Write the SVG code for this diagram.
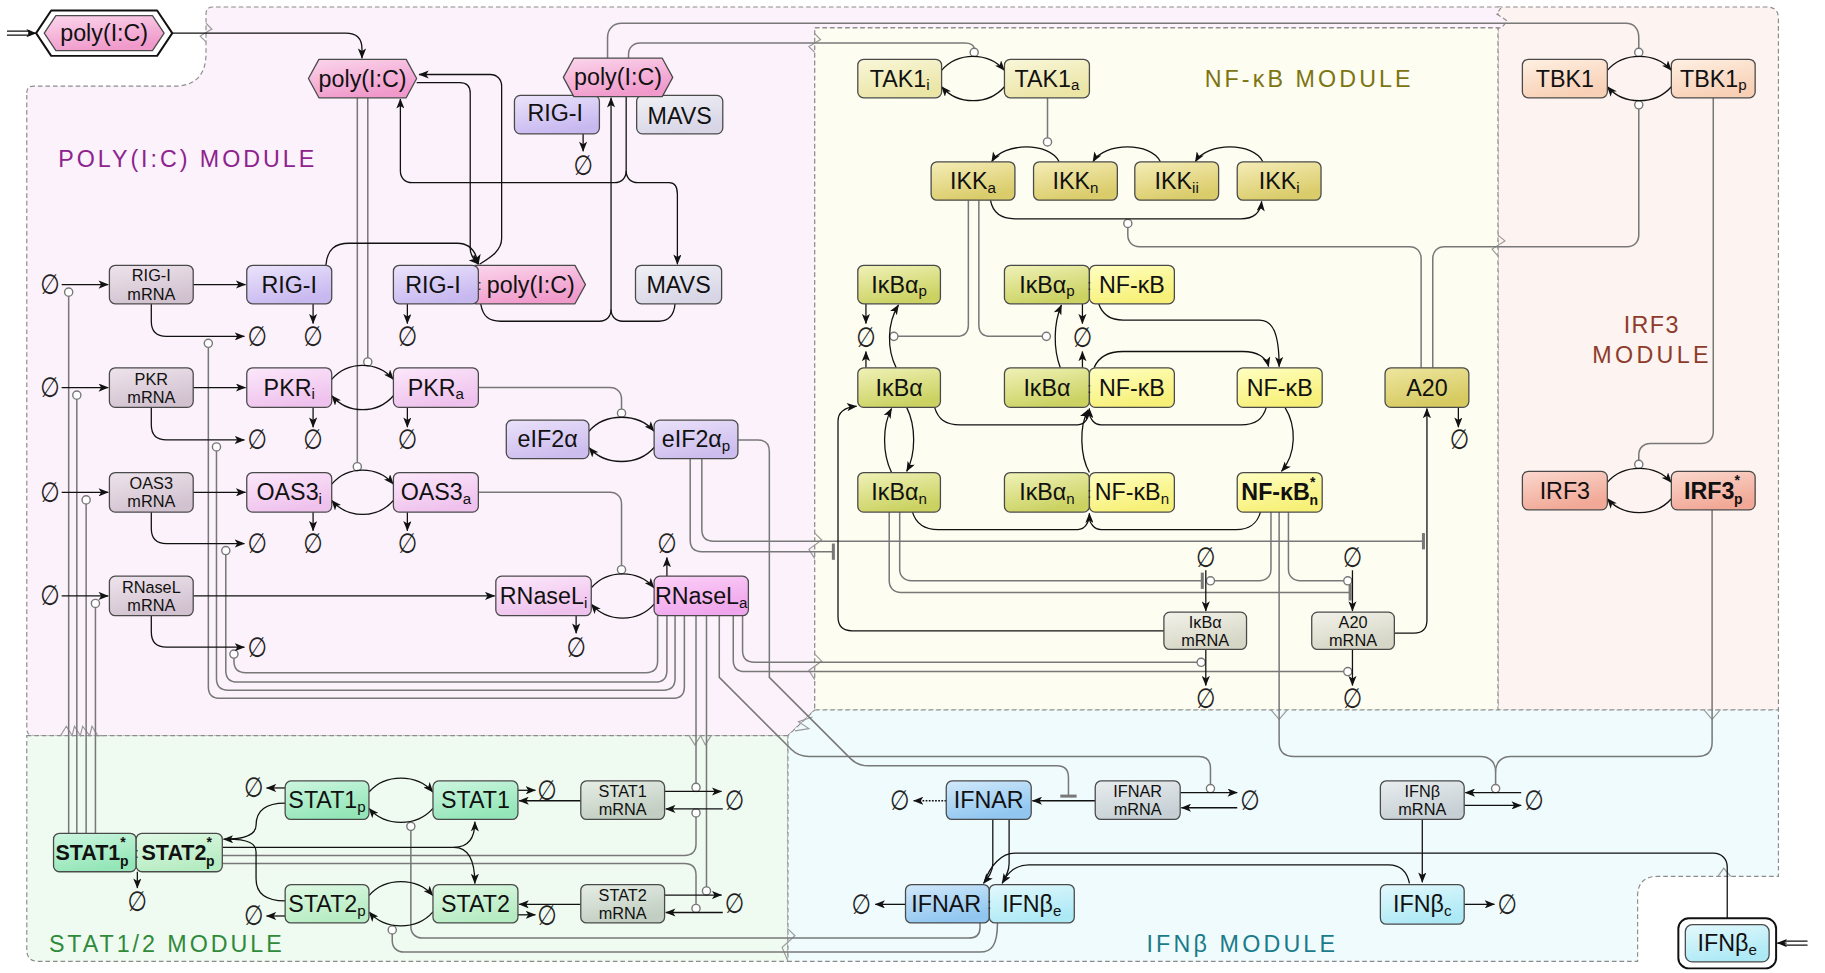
<svg xmlns="http://www.w3.org/2000/svg" width="1825" height="973" viewBox="0 0 1825 973">
<defs>
<style>
.t{font-family:"Liberation Sans",Arial,sans-serif;font-size:20px;fill:#111;text-anchor:middle;dominant-baseline:central}
.ts{font-family:"Liberation Sans",Arial,sans-serif;font-size:14px;fill:#111;text-anchor:middle;dominant-baseline:central}
.b{font-weight:bold}
.sb{font-size:13px}
.ss{font-size:12px}
.col{font-family:"Liberation Sans",Arial,sans-serif;font-size:13px;fill:#333;text-anchor:middle;dominant-baseline:central}
.e{font-family:"DejaVu Sans",sans-serif;font-size:24px;fill:#222;text-anchor:middle;dominant-baseline:central}
.lab{font-family:"Liberation Sans",Arial,sans-serif;font-size:20px;dominant-baseline:central}
.nd{stroke:#4a4a4a;stroke-width:1.1}
.r{fill:none;stroke:#111;stroke-width:1.1;marker-end:url(#ar)}
.rn{fill:none;stroke:#111;stroke-width:1.1}
.m{fill:none;stroke:#787878;stroke-width:1.3}
.c{fill:#fff;stroke:#787878;stroke-width:1.2}
.bar{stroke:#787878;stroke-width:2.6}
.mod{stroke:#8c8c8c;stroke-width:1;stroke-dasharray:4 2.5}
.zz{fill:none;stroke:#999;stroke-width:1}
</style>
<marker id="ar" viewBox="0 0 10 8" refX="9.5" refY="4" markerWidth="9" markerHeight="7" orient="auto" markerUnits="userSpaceOnUse"><path d="M0,0 L10,4 L0,8 L2.5,4 z" fill="#111"/></marker>
<linearGradient id="gPoly" x1="0" y1="0" x2="0.4" y2="1"><stop offset="0" stop-color="#fbd6ec"/><stop offset="1" stop-color="#f09acb"/></linearGradient>
<linearGradient id="gRig" x1="0" y1="0" x2="0.4" y2="1"><stop offset="0" stop-color="#ebe4fb"/><stop offset="1" stop-color="#c8b8f0"/></linearGradient>
<linearGradient id="gMavs" x1="0" y1="0" x2="0.4" y2="1"><stop offset="0" stop-color="#f1f1f6"/><stop offset="1" stop-color="#d8d6e6"/></linearGradient>
<linearGradient id="gMrP" x1="0" y1="0" x2="0.4" y2="1"><stop offset="0" stop-color="#eee4ec"/><stop offset="1" stop-color="#d2c2d0"/></linearGradient>
<linearGradient id="gPkr" x1="0" y1="0" x2="0.4" y2="1"><stop offset="0" stop-color="#fce8fb"/><stop offset="1" stop-color="#efc2ed"/></linearGradient>
<linearGradient id="gRnA" x1="0" y1="0" x2="0.4" y2="1"><stop offset="0" stop-color="#fbd0f7"/><stop offset="1" stop-color="#f0a6ec"/></linearGradient>
<linearGradient id="gEif" x1="0" y1="0" x2="0.4" y2="1"><stop offset="0" stop-color="#eae2fa"/><stop offset="1" stop-color="#cdbdee"/></linearGradient>
<linearGradient id="gTak" x1="0" y1="0" x2="0.4" y2="1"><stop offset="0" stop-color="#f9f7da"/><stop offset="1" stop-color="#ebe5a6"/></linearGradient>
<linearGradient id="gIkk" x1="0" y1="0" x2="0.4" y2="1"><stop offset="0" stop-color="#f5edb8"/><stop offset="1" stop-color="#dacc6a"/></linearGradient>
<linearGradient id="gIkb" x1="0" y1="0" x2="0.4" y2="1"><stop offset="0" stop-color="#f0f2b8"/><stop offset="1" stop-color="#cbd262"/></linearGradient>
<linearGradient id="gNf" x1="0" y1="0" x2="0.4" y2="1"><stop offset="0" stop-color="#ffffc2"/><stop offset="1" stop-color="#f7f078"/></linearGradient>
<linearGradient id="gA20" x1="0" y1="0" x2="0.4" y2="1"><stop offset="0" stop-color="#eee6a0"/><stop offset="1" stop-color="#d6ca60"/></linearGradient>
<linearGradient id="gMrN" x1="0" y1="0" x2="0.4" y2="1"><stop offset="0" stop-color="#f2f2ea"/><stop offset="1" stop-color="#d6d6c6"/></linearGradient>
<linearGradient id="gTbk" x1="0" y1="0" x2="0.4" y2="1"><stop offset="0" stop-color="#fef0e2"/><stop offset="1" stop-color="#f8d0b6"/></linearGradient>
<linearGradient id="gIrf" x1="0" y1="0" x2="0.4" y2="1"><stop offset="0" stop-color="#fbd8ce"/><stop offset="1" stop-color="#f1a896"/></linearGradient>
<linearGradient id="gS1" x1="0" y1="0" x2="0.4" y2="1"><stop offset="0" stop-color="#cdf6e0"/><stop offset="1" stop-color="#94e6b8"/></linearGradient>
<linearGradient id="gS2" x1="0" y1="0" x2="0.4" y2="1"><stop offset="0" stop-color="#e0f9e4"/><stop offset="1" stop-color="#b6ecc2"/></linearGradient>
<linearGradient id="gMrS" x1="0" y1="0" x2="0.4" y2="1"><stop offset="0" stop-color="#e6eee6"/><stop offset="1" stop-color="#c2cec2"/></linearGradient>
<linearGradient id="gIfr" x1="0" y1="0" x2="0.4" y2="1"><stop offset="0" stop-color="#d2e9fb"/><stop offset="1" stop-color="#90c6f0"/></linearGradient>
<linearGradient id="gIfb" x1="0" y1="0" x2="0.4" y2="1"><stop offset="0" stop-color="#e4f9fd"/><stop offset="1" stop-color="#ade9f5"/></linearGradient>
<linearGradient id="gMrI" x1="0" y1="0" x2="0.4" y2="1"><stop offset="0" stop-color="#e9edef"/><stop offset="1" stop-color="#c6d0d4"/></linearGradient>
</defs>
<rect x="0" y="0" width="1825" height="973" fill="#fff"/>
<g transform="scale(1.16390)">
<g id="modules">
<path class="mod" fill="#fdf3f0" d="M1287,6 L1518,6 Q1528,6 1528,16 L1528,610 L1287,610 Z"/>
<path class="mod" fill="#fbf2fb" d="M23,80 Q23,74 29,74 L150,74 C168,74 177,64 177,46 L177,12 Q177,6 183,6 L1290,6 L1286,12 L1295,18 L1290,24 L700,24 L700,610 L677,632 L29,632 Q23,632 23,626 Z"/>
<path class="mod" fill="#fdfdf1" d="M700,24 L1287,24 L1287,610 L700,610 Z"/>
<path class="mod" fill="#effaf1" d="M23,632 L677,632 L677,826 L33,826 Q23,826 23,816 Z"/>
<path class="mod" fill="#effbfd" d="M700,610 L1528,610 L1528,753 L1424,753 Q1407,753 1407,770 L1407,826 L677,826 L677,632 Z"/>
</g>
<g id="breaks">
<path class="zz" d="M177,20 L182,25 L172,31 L177,36"/>
<path class="zz" d="M700,29 L705,34 L695,40 L700,45"/>
<path class="zz" d="M700,458 L706,464 L695,472 L700,480"/>
<path class="zz" d="M700,562 L706,568 L695,576 L700,584"/>
<path class="zz" d="M1287,202 L1293,207 L1282,214 L1287,220"/>
<path class="zz" d="M677,798 L683,804 L672,814 L677,826"/>
<path class="zz" d="M52,632 L57,624 L62,632 L64,624 L69,632 L71,624 L77,632 L79,624 L84,632 L89,632"/>
<path class="zz" d="M592,632 L597,640 L602,632 L606,640 L611,632"/>
<path class="zz" d="M1092,610 L1099,618 L1106,610"/>
<path class="zz" d="M1464,610 L1471,618 L1478,610"/>
<path class="zz" d="M1476,753 L1481,746 L1487,753"/>
<path class="zz" d="M683,628 L695,626 L686,620 L698,616"/>
</g>
<g id="labels">
<text class="lab" x="50" y="137" fill="#8e238e" textLength="220" lengthAdjust="spacing">POLY(I:C) MODULE</text>
<text class="lab" x="1035" y="68" fill="#7d7412" textLength="177" lengthAdjust="spacing">NF-κB MODULE</text>
<text class="lab" x="1395" y="279" fill="#8e3b2c" textLength="47" lengthAdjust="spacing">IRF3</text>
<text class="lab" x="1368" y="305" fill="#8e3b2c" textLength="100" lengthAdjust="spacing">MODULE</text>
<text class="lab" x="42" y="811" fill="#2f8a3a" textLength="200" lengthAdjust="spacing">STAT1/2 MODULE</text>
<text class="lab" x="985" y="811" fill="#1b7b8a" textLength="162" lengthAdjust="spacing">IFNβ MODULE</text>
</g>
<g id="connectors">
<path class="m" d="M59,716 L59,254.5"/><circle class="c" cx="59" cy="251" r="3.5"/>
<path class="m" d="M66,716 L66,343"/><circle class="c" cx="66" cy="339.5" r="3.5"/>
<path class="m" d="M74,716 L74,433"/><circle class="c" cx="74" cy="429.5" r="3.5"/>
<path class="m" d="M82,716 L82,522"/><circle class="c" cx="82" cy="518.5" r="3.5"/>
<path class="m" d="M565,529 L565,568 Q565,578 555,578 L211,578 Q201,578 201,568 L201,565.5"/><circle class="c" cx="201" cy="562" r="3.5"/>
<path class="m" d="M573,529 L573,576 Q573,586 563,586 L204,586 Q194,586 194,576 L194,476.5"/><circle class="c" cx="194" cy="473" r="3.5"/>
<path class="m" d="M580,529 L580,583 Q580,593 570,593 L196,593 Q186,593 186,583 L186,387.5"/><circle class="c" cx="186" cy="384" r="3.5"/>
<path class="m" d="M588,529 L588,590 Q588,600 578,600 L189,600 Q179,600 179,590 L179,298.5"/><circle class="c" cx="179" cy="295" r="3.5"/>
<path class="m" d="M316,84 L316,307.5"/><circle class="c" cx="316" cy="311" r="3.5"/>
<path class="m" d="M307,84 L307,397.5"/><circle class="c" cx="307" cy="401" r="3.5"/>
<path class="m" d="M411,333 L524,333 C530,333 534,337 534,343 L534,351.5"/><circle class="c" cx="534" cy="355" r="3.5"/>
<path class="m" d="M411,423 L524,423 C530,423 534,427 534,433 L534,486"/><circle class="c" cx="534" cy="489.5" r="3.5"/>
<path class="m" d="M598,529 L598,673"/><circle class="c" cx="598" cy="676.5" r="3.5"/>
<path class="m" d="M607,529 L607,762"/><circle class="c" cx="607" cy="765.5" r="3.5"/>
<path class="m" d="M191,735 L588,735 Q598,735 598,725 L598,702"/><circle class="c" cx="598" cy="698.5" r="3.5"/>
<path class="m" d="M191,742 L588,742 Q598,742 598,752 L598,777"/><circle class="c" cx="598" cy="780.5" r="3.5"/>
<path class="m" d="M842,793 L842,797 C842,803 838,806 832,806 L363,806 C357,806 353,802 353,796 L353,713.5"/><circle class="c" cx="353" cy="710" r="3.5"/>
<path class="m" d="M857,793 C857,812 852,818 842,818 L347,818 C341,818 337,814 337,808 L337,802.5"/><circle class="c" cx="337" cy="799" r="3.5"/>
<path class="m" d="M634,378 L651,378 Q661,378 661,388 L661,582 L731,652 Q737,658 746,658 L908,658 Q918,658 918,668 L918,684"/><path class="bar" d="M911,684 L925,684"/>
<path class="m" d="M618,529 L618,582 L680,644 Q686,650 695,650 L1030,650 Q1040,650 1040,660 L1040,674"/><circle class="c" cx="1040" cy="677.5" r="3.5"/>
<path class="m" d="M593,394 L593,464 Q593,474 603,474 L716,474"/><path class="bar" d="M716,467 L716,481"/>
<path class="m" d="M603,394 L603,455 Q603,465 613,465 L1223,465"/><path class="bar" d="M1223,458 L1223,472"/>
<path class="m" d="M638,529 L638,559 Q638,569 648,569 L1028.5,569"/><circle class="c" cx="1032" cy="569" r="3.5"/>
<path class="m" d="M630,529 L630,567 Q630,577 640,577 L1154.5,577"/><circle class="c" cx="1158" cy="577" r="3.5"/>
<path class="m" d="M832,172 L832,279 Q832,289 822,289 L771.5,289"/><circle class="c" cx="768" cy="289" r="3.5"/>
<path class="m" d="M841,172 L841,279 Q841,289 851,289 L895.5,289"/><circle class="c" cx="899" cy="289" r="3.5"/>
<path class="m" d="M900,84 L900,118.5"/><circle class="c" cx="900" cy="122" r="3.5"/>
<path class="m" d="M540,50 L540,47 C540,41 544,37 550,37 L829,37 C834,37 837,39 837,41.5"/><circle class="c" cx="837" cy="45" r="3.5"/>
<path class="m" d="M522,50 L522,32 C522,25 527,20 534,20 L1397,20 C1404,20 1408,25 1408,32 L1408,41.5"/><circle class="c" cx="1408" cy="45" r="3.5"/>
<path class="m" d="M1231,316 L1231,222 C1231,216 1235,212 1241,212 L1398,212 C1404,212 1408,208 1408,202 L1408,93.5"/><circle class="c" cx="1408" cy="90" r="3.5"/>
<path class="m" d="M1221,316 L1221,222 C1221,216 1217,212 1211,212 L979,212 C973,212 969,208 969,202 L969,195.5"/><circle class="c" cx="969" cy="192" r="3.5"/>
<path class="m" d="M1472,84 L1472,371 C1472,377 1468,381 1462,381 L1418,381 C1412,381 1408,385 1408,391 L1408,395.5"/><circle class="c" cx="1408" cy="399" r="3.5"/>
<path class="m" d="M1471,438 L1471,638 C1471,646 1466,650 1458,650 L1298,650 C1290,650 1285,655 1285,663 L1285,674"/>
<path class="m" d="M1099,440 L1099,638 C1099,646 1104,650 1112,650 L1272,650 C1280,650 1285,655 1285,663"/><circle class="c" cx="1285" cy="677.5" r="3.5"/>
<path class="m" d="M1092,440 L1092,489 C1092,495 1088,499 1082,499 L1043.5,499"/><circle class="c" cx="1040" cy="499" r="3.5"/>
<path class="m" d="M1107,440 L1107,489 C1107,495 1111,499 1117,499 L1154.5,499"/><circle class="c" cx="1158" cy="499" r="3.5"/>
<path class="m" d="M773,440 L773,489 C773,495 777,499 783,499 L1033,499"/><path class="bar" d="M1033,492 L1033,506"/>
<path class="m" d="M764,440 L764,499 C764,505 768,509 774,509 L1160,509"/><path class="bar" d="M1160,502 L1160,516"/>
<path class="rn" d="M6,26.8 L26,26.8 M6,30.2 L26,30.2"/><path class="r" d="M24,28.5 L31,28.5"/>
<path class="rn" d="M1553,808.6 L1533,808.6 M1553,812 L1533,812"/><path class="r" d="M1535,810.3 L1527,810.3"/>
<path class="r" d="M148,28.5 L297,28.5 C306,28.5 311,33 311,42 L311,50"/>
<path class="r" d="M53,244.5 L93,244.5"/>
<path class="r" d="M166,244.5 L211,244.5"/>
<path class="r" d="M130,261 L130,276 Q130,289 143,289 L210,289"/>
<path class="r" d="M269,261 L269,278"/>
<path class="r" d="M280,228 C281,214 288,209 300,209 L393,209 C403,209 409,216 411,227"/>
<path class="r" d="M358,71 L395,71 C401,71 404,74 404,80 L404,214 C404,220 408,224 411,227"/>
<path class="r" d="M412,227 C420,222 431,216 431,205 L431,74 C431,68 427,64 421,64 L360,64"/>
<path class="r" d="M350,261 L350,278"/>
<path class="r" d="M413,261 C415,272 420,276 430,276 L515,276 C521,276 525,272 525,266 L525,84"/>
<path class="rn" d="M580,261 C579,272 574,276 566,276 L535,276 C529,276 525,272 525,266"/>
<path class="r" d="M538,83 L538,147 C538,153 534,157 528,157 L354,157 C348,157 344,153 344,147 L344,85"/>
<path class="r" d="M538,147 C538,153 542,157 548,157 L575,157 C580,157 582,161 582,167 L582,227"/>
<path class="r" d="M501,115 L501,130"/>
<path class="r" d="M53,333 L93,333"/>
<path class="r" d="M166,333 L211,333"/>
<path class="r" d="M130,350 L130,365 Q130,378 143,378 L210,378"/>
<path class="r" d="M269,350 L269,367"/>
<path class="r" d="M350,350 L350,367"/>
<path class="r" d="M285,326 C299,310 324,310 338,326"/>
<path class="r" d="M338,340 C324,356 299,356 285,340"/>
<path class="r" d="M53,423 L93,423"/>
<path class="r" d="M166,423 L211,423"/>
<path class="r" d="M130,440 L130,454 Q130,467 143,467 L210,467"/>
<path class="r" d="M269,440 L269,456"/>
<path class="r" d="M350,440 L350,456"/>
<path class="r" d="M285,416 C299,400 324,400 338,416"/>
<path class="r" d="M338,430 C324,446 299,446 285,430"/>
<path class="r" d="M53,512 L93,512"/>
<path class="r" d="M166,512 L425,512"/>
<path class="r" d="M130,529 L130,543 Q130,556 143,556 L210,556"/>
<path class="r" d="M495,529 L495,544"/>
<path class="r" d="M573,495 L573,479"/>
<path class="r" d="M508,505 C522,489 548,489 562,505"/>
<path class="r" d="M562,519 C548,535 522,535 508,519"/>
<path class="r" d="M506,370.5 C520,354.5 548,354.5 562,370.5"/>
<path class="r" d="M562,384.5 C548,400.5 520,400.5 506,384.5"/>
<path class="r" d="M809,60.5 C823,44.5 849,44.5 863,60.5"/>
<path class="r" d="M863,74.5 C849,90.5 823,90.5 809,74.5"/>
<path class="r" d="M910,139 C902,122 862,122 852,139"/>
<path class="r" d="M997,139 C989,122 949,122 939,139"/>
<path class="r" d="M1085,139 C1077,122 1037,122 1027,139"/>
<path class="r" d="M851,172 C853,183 860,188 872,188 L1066,188 C1077,188 1083,183 1084,173"/>
<path class="r" d="M744,261 L744,278"/>
<path class="r" d="M744,316 L744,302"/>
<path class="r" d="M770,316 C762,300 762,278 772,262"/>
<path class="r" d="M911,316 C905,300 905,278 912,262"/>
<path class="r" d="M930,261 L930,278"/>
<path class="r" d="M930,316 L930,302"/>
<path class="r" d="M944,261 C947,270 953,275 965,275 L1082,275 C1093,275 1099,285 1099,315"/>
<path class="r" d="M940,316 C944,306 952,302 965,302 L1068,302 C1080,302 1088,307 1090,315"/>
<path class="r" d="M803,350 C806,360 812,365 825,365 L926,365 C932,365 936,359 936,351"/>
<path class="rn" d="M1088,350 C1085,360 1079,365 1066,365 L946,365 C940,365 936,359 936,355"/>
<path class="r" d="M766,406 C758,390 758,366 766,351"/>
<path class="r" d="M779,350 C787,366 787,390 779,405"/>
<path class="r" d="M936,406 C928,392 927,366 935,352"/>
<path class="r" d="M1104,350 C1114,366 1114,390 1101,405"/>
<path class="r" d="M784,440 C787,450 794,455 806,455 L926,455 C932,455 936,449 936,441"/>
<path class="rn" d="M1083,440 C1080,450 1074,455 1062,455 L946,455 C940,455 936,449 936,445"/>
<path class="r" d="M1036,490 L1036,525"/>
<path class="r" d="M1036,558 L1036,589"/>
<path class="r" d="M1162,490 L1162,525"/>
<path class="r" d="M1162,558 L1162,589"/>
<path class="r" d="M1000,542 L732,542 C724,542 720,538 720,530 L720,362 C720,354 726,350 736,349"/>
<path class="r" d="M1198,544 L1215,544 C1222,544 1226,540 1226,533 L1226,351"/>
<path class="r" d="M1253,350 L1253,367"/>
<path class="r" d="M1381,60.5 C1395,44.5 1422,44.5 1436,60.5"/>
<path class="r" d="M1436,74.5 C1422,90.5 1395,90.5 1381,74.5"/>
<path class="r" d="M1381,414.5 C1395,398.5 1422,398.5 1436,414.5"/>
<path class="r" d="M1436,428.5 C1422,444.5 1395,444.5 1381,428.5"/>
<path class="r" d="M317,680.5 C331,664.5 358,664.5 372,680.5"/>
<path class="r" d="M372,694.5 C358,710.5 331,710.5 317,694.5"/>
<path class="r" d="M317,769.5 C331,753.5 358,753.5 372,769.5"/>
<path class="r" d="M372,783.5 C358,799.5 331,799.5 317,783.5"/>
<path class="r" d="M499,688 L446,688"/>
<path class="r" d="M499,777 L446,777"/>
<path class="r" d="M445,679 L460,679"/>
<path class="r" d="M445,786 L460,786"/>
<path class="r" d="M245,677 L229,677"/>
<path class="r" d="M245,787 L229,787"/>
<path class="r" d="M118,749 L118,763"/>
<path class="r" d="M245,690 C228,690 220,697 220,709 C220,716 214,721 192,721"/>
<path class="rn" d="M245,774 C228,774 220,767 220,755 L220,732 C220,725 214,721 195,721"/>
<path class="r" d="M191,728 L390,728 C402,728 408,720 408,706"/>
<path class="r" d="M390,728 C402,728 408,738 408,759"/>
<path class="r" d="M571,680 L620,680"/>
<path class="r" d="M621,695 L572,695"/>
<path class="r" d="M571,769 L620,769"/>
<path class="r" d="M621,784 L572,784"/>
<path class="r" d="M941,688 L887,688"/>
<path class="r" d="M813,688 L785,688" stroke-dasharray="1.5 1.2"/>
<path class="r" d="M1014,681 L1063,681"/>
<path class="r" d="M1063,694 L1015,694"/>
<path class="r" d="M778,777 L752,777"/>
<path class="r" d="M853,704 L853,742 C853,749 849,754 845,759"/>
<path class="rn" d="M1484,789 L1484,745 C1484,738 1479,733 1472,733 L872,733 C860,733 851,744 846,757"/>
<path class="r" d="M867,704 L867,742 C867,749 864,754 861,759"/>
<path class="rn" d="M1211,759 C1209,749 1203,743 1193,743 L884,743 C873,743 866,750 862,757"/>
<path class="r" d="M1258,692 L1307,692"/>
<path class="r" d="M1307,681 L1259,681"/>
<path class="r" d="M1222,704 L1222,758"/>
<path class="r" d="M1258,777 L1284,777"/>
</g>
<g id="emptysets">
<text class="e" transform="translate(43 244.5) scale(0.8 1)">∅</text><text class="e" transform="translate(43 333) scale(0.8 1)">∅</text><text class="e" transform="translate(43 423) scale(0.8 1)">∅</text><text class="e" transform="translate(43 512) scale(0.8 1)">∅</text>
<text class="e" transform="translate(221 289) scale(0.8 1)">∅</text><text class="e" transform="translate(269 289) scale(0.8 1)">∅</text><text class="e" transform="translate(350 289) scale(0.8 1)">∅</text>
<text class="e" transform="translate(221 378) scale(0.8 1)">∅</text><text class="e" transform="translate(269 378) scale(0.8 1)">∅</text><text class="e" transform="translate(350 378) scale(0.8 1)">∅</text>
<text class="e" transform="translate(221 467) scale(0.8 1)">∅</text><text class="e" transform="translate(269 467) scale(0.8 1)">∅</text><text class="e" transform="translate(350 467) scale(0.8 1)">∅</text>
<text class="e" transform="translate(221 556) scale(0.8 1)">∅</text><text class="e" transform="translate(495 556) scale(0.8 1)">∅</text><text class="e" transform="translate(573 467) scale(0.8 1)">∅</text><text class="e" transform="translate(501 142) scale(0.8 1)">∅</text>
<text class="e" transform="translate(744 290) scale(0.8 1)">∅</text><text class="e" transform="translate(930 290) scale(0.8 1)">∅</text><text class="e" transform="translate(1036 479) scale(0.8 1)">∅</text><text class="e" transform="translate(1162 479) scale(0.8 1)">∅</text>
<text class="e" transform="translate(1036 600) scale(0.8 1)">∅</text><text class="e" transform="translate(1162 600) scale(0.8 1)">∅</text><text class="e" transform="translate(1254 378) scale(0.8 1)">∅</text>
<text class="e" transform="translate(218 677) scale(0.8 1)">∅</text><text class="e" transform="translate(470 679) scale(0.8 1)">∅</text><text class="e" transform="translate(631 687.5) scale(0.8 1)">∅</text><text class="e" transform="translate(118 775) scale(0.8 1)">∅</text>
<text class="e" transform="translate(218 787) scale(0.8 1)">∅</text><text class="e" transform="translate(470 787) scale(0.8 1)">∅</text><text class="e" transform="translate(631 776.5) scale(0.8 1)">∅</text>
<text class="e" transform="translate(773 688) scale(0.8 1)">∅</text><text class="e" transform="translate(740 777) scale(0.8 1)">∅</text><text class="e" transform="translate(1074 688) scale(0.8 1)">∅</text><text class="e" transform="translate(1318 688) scale(0.8 1)">∅</text><text class="e" transform="translate(1295 777) scale(0.8 1)">∅</text>
</g>
<g id="n_poly_in"><path d="M31,28.5 L44,9 L135,9 L148,28.5 L135,48 L44,48 Z" fill="#fff" stroke="#111" stroke-width="1.7" stroke-linejoin="round"/><path class="nd" d="M38,28.5 L48,13.5 L131,13.5 L141,28.5 L131,43.5 L48,43.5 Z" fill="url(#gPoly)" stroke-linejoin="round"/><text class="t" x="89.5" y="28.5">poly(I:C)</text></g>
<g id="n_poly1"><path class="nd" d="M265,67.5 L274,51 L349,51 L358,67.5 L349,84 L274,84 Z" fill="url(#gPoly)" stroke-linejoin="round"/><text class="t" x="311.5" y="67.5">poly(I:C)</text></g>
<g id="n_rigi_poly_mavs"><rect class="nd" x="442" y="82" width="73" height="33" rx="5" fill="url(#gRig)"/><rect class="nd" x="547" y="82" width="74" height="33" rx="5" fill="url(#gMavs)"/><path class="nd" d="M484,66.5 L493,50 L569,50 L578,66.5 L569,83 L493,83 Z" fill="url(#gPoly)" stroke-linejoin="round"/><text class="t" x="531" y="66.5">poly(I:C)</text><text class="t" x="477" y="97">RIG-I</text><text class="t" x="584" y="99.5">MAVS</text></g>
<g id="n_rigi_mrna"><rect class="nd" x="94" y="228" width="72" height="33" rx="5" fill="url(#gMrP)"/><text class="ts"><tspan x="130" y="236.7">RIG-I</tspan><tspan x="130" y="252.3">mRNA</tspan></text></g>
<g id="n_rigi"><rect class="nd" x="212" y="228" width="73" height="33" rx="5" fill="url(#gRig)"/><text class="t" x="248.5" y="244.5">RIG-I</text></g>
<g id="n_rigi_poly"><path class="nd" d="M408,228 L494,228 L503,244.5 L494,261 L408,261 Z" fill="url(#gPoly)" stroke-linejoin="round"/><rect class="nd" x="338" y="228" width="73" height="33" rx="5" fill="url(#gRig)"/><text class="t" x="372" y="244.5">RIG-I</text><text class="col" x="412" y="244.5">:</text><text class="t" x="456" y="244.5">poly(I:C)</text></g>
<g id="n_mavs"><rect class="nd" x="546" y="228" width="74" height="33" rx="5" fill="url(#gMavs)"/><text class="t" x="583" y="244.5">MAVS</text></g>
<g id="n_pkr_mrna"><rect class="nd" x="94" y="316" width="72" height="34" rx="5" fill="url(#gMrP)"/><text class="ts"><tspan x="130" y="325.2">PKR</tspan><tspan x="130" y="340.8">mRNA</tspan></text></g>
<g id="n_pkr_i"><rect class="nd" x="212" y="316" width="73" height="34" rx="5" fill="url(#gPkr)"/><text class="t" x="248.5" y="333">PKR<tspan class="sb" dy="5">i</tspan></text></g>
<g id="n_pkr_a"><rect class="nd" x="338" y="316" width="73" height="34" rx="5" fill="url(#gPkr)"/><text class="t" x="374.5" y="333">PKR<tspan class="sb" dy="5">a</tspan></text></g>
<g id="n_eif"><rect class="nd" x="435" y="361" width="71" height="33" rx="5" fill="url(#gEif)"/><text class="t" x="470.5" y="377.5">eIF2α</text></g>
<g id="n_eif_p"><rect class="nd" x="562" y="361" width="72" height="33" rx="5" fill="url(#gEif)"/><text class="t" x="598" y="377.5">eIF2α<tspan class="sb" dy="5">p</tspan></text></g>
<g id="n_oas_mrna"><rect class="nd" x="94" y="406" width="72" height="34" rx="5" fill="url(#gMrP)"/><text class="ts"><tspan x="130" y="415.2">OAS3</tspan><tspan x="130" y="430.8">mRNA</tspan></text></g>
<g id="n_oas_i"><rect class="nd" x="212" y="406" width="73" height="34" rx="5" fill="url(#gPkr)"/><text class="t" x="248.5" y="423">OAS3<tspan class="sb" dy="5">i</tspan></text></g>
<g id="n_oas_a"><rect class="nd" x="338" y="406" width="73" height="34" rx="5" fill="url(#gPkr)"/><text class="t" x="374.5" y="423">OAS3<tspan class="sb" dy="5">a</tspan></text></g>
<g id="n_rnl_mrna"><rect class="nd" x="94" y="495" width="72" height="34" rx="5" fill="url(#gMrP)"/><text class="ts"><tspan x="130" y="504.2">RNaseL</tspan><tspan x="130" y="519.8">mRNA</tspan></text></g>
<g id="n_rnl_i"><rect class="nd" x="426" y="495" width="82" height="34" rx="5" fill="url(#gPkr)"/><text class="t" x="467" y="512">RNaseL<tspan class="sb" dy="5">i</tspan></text></g>
<g id="n_rnl_a"><rect class="nd" x="562" y="495" width="81" height="34" rx="5" fill="url(#gRnA)"/><text class="t" x="602.5" y="512">RNaseL<tspan class="sb" dy="5">a</tspan></text></g>
<g id="n_tak_i"><rect class="nd" x="737" y="51" width="72" height="33" rx="5" fill="url(#gTak)"/><text class="t" x="773" y="67.5">TAK1<tspan class="sb" dy="5">i</tspan></text></g>
<g id="n_tak_a"><rect class="nd" x="863" y="51" width="73" height="33" rx="5" fill="url(#gTak)"/><text class="t" x="899.5" y="67.5">TAK1<tspan class="sb" dy="5">a</tspan></text></g>
<g id="n_ikk_a"><rect class="nd" x="800" y="139" width="72" height="33" rx="5" fill="url(#gIkk)"/><text class="t" x="836" y="155.5">IKK<tspan class="sb" dy="5">a</tspan></text></g>
<g id="n_ikk_n"><rect class="nd" x="888" y="139" width="72" height="33" rx="5" fill="url(#gIkk)"/><text class="t" x="924" y="155.5">IKK<tspan class="sb" dy="5">n</tspan></text></g>
<g id="n_ikk_ii"><rect class="nd" x="975" y="139" width="72" height="33" rx="5" fill="url(#gIkk)"/><text class="t" x="1011" y="155.5">IKK<tspan class="sb" dy="5">ii</tspan></text></g>
<g id="n_ikk_i"><rect class="nd" x="1063" y="139" width="72" height="33" rx="5" fill="url(#gIkk)"/><text class="t" x="1099" y="155.5">IKK<tspan class="sb" dy="5">i</tspan></text></g>
<g id="n_ikb_p"><rect class="nd" x="737" y="228" width="71" height="33" rx="5" fill="url(#gIkb)"/><text class="t" x="772.5" y="244.5">IκBα<tspan class="sb" dy="5">p</tspan></text></g>
<g id="n_ikbp_nfkb"><rect class="nd" x="863" y="228" width="73" height="33" rx="5" fill="url(#gIkb)"/><rect class="nd" x="936" y="228" width="73" height="33" rx="5" fill="url(#gNf)"/><text class="t" x="899.5" y="244.5">IκBα<tspan class="sb" dy="5">p</tspan></text><text class="col" x="936" y="244.5">:</text><text class="t" x="972.5" y="244.5">NF-κB</text></g>
<g id="n_ikb"><rect class="nd" x="737" y="316" width="71" height="34" rx="5" fill="url(#gIkb)"/><text class="t" x="772.5" y="333">IκBα</text></g>
<g id="n_ikb_nfkb"><rect class="nd" x="863" y="316" width="73" height="34" rx="5" fill="url(#gIkb)"/><rect class="nd" x="936" y="316" width="73" height="34" rx="5" fill="url(#gNf)"/><text class="t" x="899.5" y="333">IκBα</text><text class="col" x="936" y="333">:</text><text class="t" x="972.5" y="333">NF-κB</text></g>
<g id="n_nfkb"><rect class="nd" x="1063" y="316" width="73" height="34" rx="5" fill="url(#gNf)"/><text class="t" x="1099.5" y="333">NF-κB</text></g>
<g id="n_a20"><rect class="nd" x="1190" y="316" width="72" height="34" rx="5" fill="url(#gA20)"/><text class="t" x="1226" y="333">A20</text></g>
<g id="n_ikb_n"><rect class="nd" x="737" y="406" width="71" height="34" rx="5" fill="url(#gIkb)"/><text class="t" x="772.5" y="423">IκBα<tspan class="sb" dy="5">n</tspan></text></g>
<g id="n_ikbn_nfkbn"><rect class="nd" x="863" y="406" width="73" height="34" rx="5" fill="url(#gIkb)"/><rect class="nd" x="936" y="406" width="73" height="34" rx="5" fill="url(#gNf)"/><text class="t" x="899.5" y="423">IκBα<tspan class="sb" dy="5">n</tspan></text><text class="col" x="936" y="423">:</text><text class="t" x="972.5" y="423">NF-κB<tspan class="sb" dy="5">n</tspan></text></g>
<g id="n_nfkb_n"><rect class="nd" x="1063" y="406" width="73" height="34" rx="5" fill="url(#gNf)"/><text class="t b" x="1099.5" y="423">NF-κB<tspan class="ss" dy="-9">*</tspan><tspan class="ss" dx="-5" dy="16">n</tspan></text></g>
<g id="n_ikb_mrna"><rect class="nd" x="1000" y="526" width="71" height="32" rx="5" fill="url(#gMrN)"/><text class="ts"><tspan x="1035.5" y="534.2">IκBα</tspan><tspan x="1035.5" y="549.8">mRNA</tspan></text></g>
<g id="n_a20_mrna"><rect class="nd" x="1127" y="526" width="71" height="32" rx="5" fill="url(#gMrN)"/><text class="ts"><tspan x="1162.5" y="534.2">A20</tspan><tspan x="1162.5" y="549.8">mRNA</tspan></text></g>
<g id="n_tbk"><rect class="nd" x="1308" y="51" width="73" height="33" rx="5" fill="url(#gTbk)"/><text class="t" x="1344.5" y="67.5">TBK1</text></g>
<g id="n_tbk_p"><rect class="nd" x="1436" y="51" width="72" height="33" rx="5" fill="url(#gTbk)"/><text class="t" x="1472" y="67.5">TBK1<tspan class="sb" dy="5">p</tspan></text></g>
<g id="n_irf"><rect class="nd" x="1308" y="405" width="73" height="33" rx="5" fill="url(#gIrf)"/><text class="t" x="1344.5" y="421.5">IRF3</text></g>
<g id="n_irf_p"><rect class="nd" x="1436" y="405" width="72" height="33" rx="5" fill="url(#gIrf)"/><text class="t b" x="1472" y="421.5">IRF3<tspan class="ss" dy="-9">*</tspan><tspan class="ss" dx="-5" dy="16">p</tspan></text></g>
<g id="n_s1p"><rect class="nd" x="245" y="671" width="72" height="33" rx="5" fill="url(#gS1)"/><text class="t" x="281" y="687.5">STAT1<tspan class="sb" dy="5">p</tspan></text></g>
<g id="n_s1"><rect class="nd" x="372" y="671" width="73" height="33" rx="5" fill="url(#gS1)"/><text class="t" x="408.5" y="687.5">STAT1</text></g>
<g id="n_s1_mrna"><rect class="nd" x="499" y="671" width="72" height="33" rx="5" fill="url(#gMrS)"/><text class="ts"><tspan x="535" y="679.7">STAT1</tspan><tspan x="535" y="695.3">mRNA</tspan></text></g>
<g id="n_s12"><rect class="nd" x="46" y="716" width="71" height="33" rx="5" fill="url(#gS1)"/><rect class="nd" x="117" y="716" width="74" height="33" rx="5" fill="url(#gS2)"/><text class="t b" x="79" y="732.5" style="font-size:18.5px">STAT1<tspan class="ss" dy="-9">*</tspan><tspan class="ss" dx="-5" dy="16">p</tspan></text><text class="col" x="117.5" y="732.5">:</text><text class="t b" x="153" y="732.5" style="font-size:18.5px">STAT2<tspan class="ss" dy="-9">*</tspan><tspan class="ss" dx="-5" dy="16">p</tspan></text></g>
<g id="n_s2p"><rect class="nd" x="245" y="760" width="72" height="33" rx="5" fill="url(#gS2)"/><text class="t" x="281" y="776.5">STAT2<tspan class="sb" dy="5">p</tspan></text></g>
<g id="n_s2"><rect class="nd" x="372" y="760" width="73" height="33" rx="5" fill="url(#gS2)"/><text class="t" x="408.5" y="776.5">STAT2</text></g>
<g id="n_s2_mrna"><rect class="nd" x="499" y="760" width="72" height="33" rx="5" fill="url(#gMrS)"/><text class="ts"><tspan x="535" y="768.7">STAT2</tspan><tspan x="535" y="784.3">mRNA</tspan></text></g>
<g id="n_ifnar"><rect class="nd" x="813" y="671" width="73" height="33" rx="5" fill="url(#gIfr)"/><text class="t" x="849.5" y="687.5">IFNAR</text></g>
<g id="n_ifnar_mrna"><rect class="nd" x="941" y="671" width="73" height="33" rx="5" fill="url(#gMrI)"/><text class="ts"><tspan x="977.5" y="679.7">IFNAR</tspan><tspan x="977.5" y="695.3">mRNA</tspan></text></g>
<g id="n_ifnar_ifnb"><rect class="nd" x="778" y="760" width="72" height="33" rx="5" fill="url(#gIfr)"/><rect class="nd" x="850" y="760" width="73" height="33" rx="5" fill="url(#gIfb)"/><text class="t" x="813" y="776.5">IFNAR</text><text class="col" x="850" y="776.5">:</text><text class="t" x="886.5" y="776.5">IFNβ<tspan class="sb" dy="5">e</tspan></text></g>
<g id="n_ifnb_mrna"><rect class="nd" x="1186" y="671" width="72" height="33" rx="5" fill="url(#gMrI)"/><text class="ts"><tspan x="1222" y="679.7">IFNβ</tspan><tspan x="1222" y="695.3">mRNA</tspan></text></g>
<g id="n_ifnb_c"><rect class="nd" x="1186" y="760" width="72" height="34" rx="5" fill="url(#gIfb)"/><text class="t" x="1222" y="777">IFNβ<tspan class="sb" dy="5">c</tspan></text></g>
<g id="n_ifnb_in"><rect x="1442" y="789" width="84" height="43" rx="9" fill="#fff" stroke="#111" stroke-width="1.7"/><rect class="nd" x="1448" y="794.5" width="72" height="32" rx="6" fill="url(#gIfb)"/><text class="t" x="1484" y="810.5">IFNβ<tspan class="sb" dy="5">e</tspan></text></g>
</g>
</svg>
